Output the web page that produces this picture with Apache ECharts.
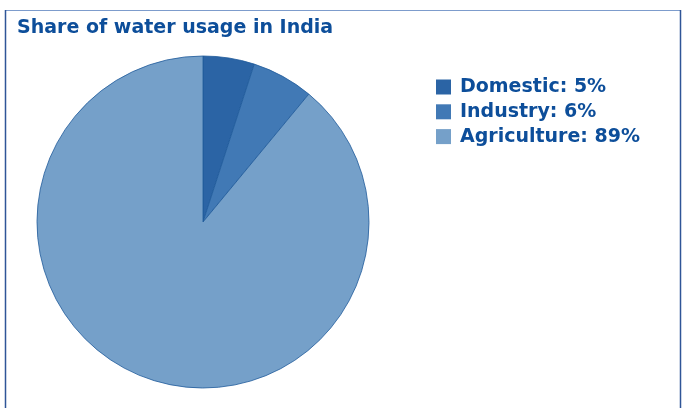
<!DOCTYPE html>
<html>
<head>
<meta charset="utf-8">
<script src="https://cdn.jsdelivr.net/npm/echarts@6/dist/echarts.min.js"></script>
<style>
  html, body { margin: 0; padding: 0; background: #fff; }
  #chart { width: 686px; height: 408px; }
</style>
</head>
<body>
<div id="chart"></div>
<script>
// data
const categories = ['Domestic', 'Industry', 'Agriculture']
const shares = [5, 6, 89]
const sliceColors = ['#2b64a5', '#4179b5', '#75a0c9']
const titleText = 'Share of water usage in India'

const textBlue = '#0d4e9a'

const chart = echarts.init(document.getElementById('chart'), null, { renderer: 'canvas' })

chart.setOption({
    animation: false,
    title: {
        text: titleText,
        left: 12,
        top: 14,
        textStyle: {
            fontFamily: 'DejaVu Sans',
            fontWeight: 'bold',
            fontSize: 19,
            color: textBlue
        }
    },
    legend: {
        orient: 'vertical',
        left: 431,
        top: 72,
        itemWidth: 15,
        itemHeight: 15,
        itemGap: 4.8,
        icon: 'rect',
        data: categories,
        itemStyle: { borderWidth: 0 },
        formatter: function (name) {
            const i = categories.indexOf(name)
            return name + ': ' + shares[i] + '%'
        },
        textStyle: {
            fontFamily: 'DejaVu Sans',
            fontWeight: 'bold',
            fontSize: 19,
            lineHeight: 20,
            color: textBlue,
            padding: [0, 0, 0, 4]
        }
    },
    graphic: [
        // frame round the chart, open at the bottom
        { type: 'line', shape: { x1: 5.5, y1: 10.5, x2: 680.5, y2: 10.5 }, style: { stroke: '#7d9ccc', lineWidth: 1 } },
        { type: 'line', shape: { x1: 5.5, y1: 10, x2: 5.5, y2: 408 }, style: { stroke: '#2f5597', lineWidth: 1.5 } },
        { type: 'line', shape: { x1: 680.5, y1: 10, x2: 680.5, y2: 408 }, style: { stroke: '#2f5597', lineWidth: 1.5 } }
    ],
    series: [{
        type: 'pie',
        center: [203, 222],
        radius: 166,
        startAngle: 90,
        clockwise: true,
        label: { show: false },
        labelLine: { show: false },
        emphasis: { disabled: true },
        itemStyle: {
            borderColor: '#1f5a9a',
            borderWidth: 0.8
        },
        data: categories.map(function (c, i) {
            return { name: c, value: shares[i], itemStyle: { color: sliceColors[i] } }
        })
    }]
})
</script>
</body>
</html>
